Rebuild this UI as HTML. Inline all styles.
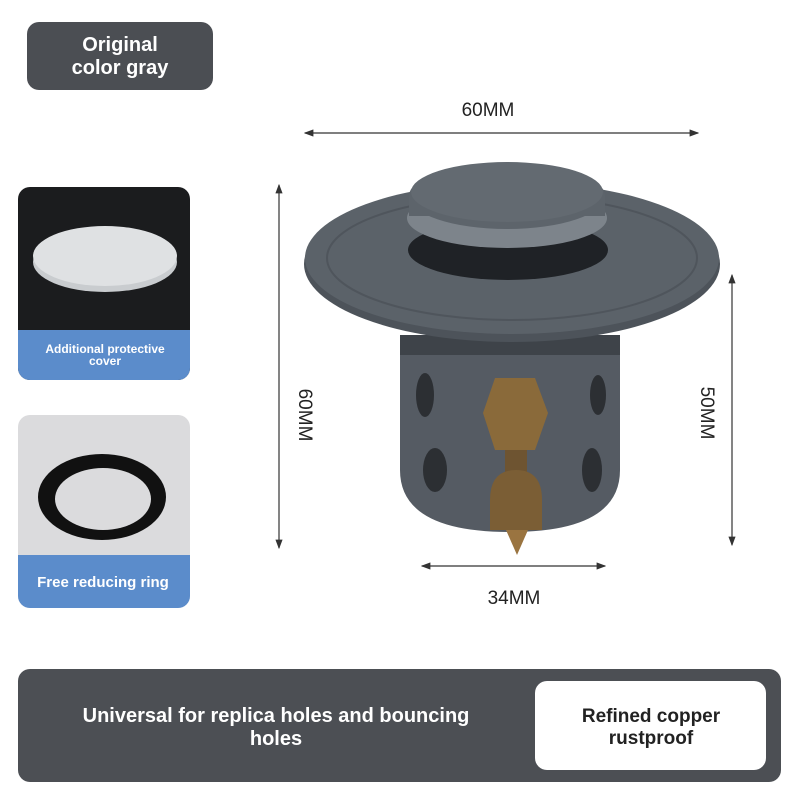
<!DOCTYPE html>
<html><head><meta charset="utf-8"><style>
body{margin:0;width:800px;height:800px;background:#fff;overflow:hidden;font-family:"Liberation Sans",sans-serif}
</style></head><body>
<svg width="800" height="800" viewBox="0 0 800 800" xmlns="http://www.w3.org/2000/svg" font-family="Liberation Sans, sans-serif">
<defs>
<marker id="a" markerWidth="8" markerHeight="6" refX="7" refY="3" orient="auto"><path d="M0,0 L8,3 L0,6 Z" fill="#333"/></marker>
<marker id="b" markerWidth="8" markerHeight="6" refX="1" refY="3" orient="auto"><path d="M8,0 L0,3 L8,6 Z" fill="#333"/></marker>
<clipPath id="c1"><rect x="18" y="187" width="172" height="193" rx="12"/></clipPath>
<clipPath id="c2"><rect x="18" y="415" width="172" height="193" rx="12"/></clipPath>
</defs>
<rect x="27" y="22" width="186" height="68" rx="12" fill="#4b4e53"/>
<text x="120" y="51" fill="#fff" font-size="20" font-weight="bold" text-anchor="middle">Original</text>
<text x="120" y="74" fill="#fff" font-size="20" font-weight="bold" text-anchor="middle">color gray</text>

<g clip-path="url(#c1)"><rect x="18" y="187" width="172" height="193" fill="#1b1c1e"/><rect x="18" y="330" width="172" height="50" fill="#5b8ccb"/>
<ellipse cx="105" cy="262" rx="72" ry="30" fill="#c9cccf"/><ellipse cx="105" cy="256" rx="72" ry="30" fill="#dfe1e3"/></g>
<text x="105" y="353" fill="#fff" font-size="12" font-weight="bold" text-anchor="middle">Additional protective</text>
<text x="105" y="365" fill="#fff" font-size="12" font-weight="bold" text-anchor="middle">cover</text>
<g clip-path="url(#c2)"><rect x="18" y="415" width="172" height="193" fill="#dbdbdd"/><rect x="18" y="555" width="172" height="53" fill="#5b8ccb"/>
<ellipse cx="102" cy="497" rx="64" ry="43" fill="#111"/><ellipse cx="103" cy="499" rx="48" ry="31" fill="#dbdbdd"/></g>
<text x="103" y="587" fill="#fff" font-size="15" font-weight="bold" text-anchor="middle">Free reducing ring</text>

<line x1="305" y1="133" x2="698" y2="133" stroke="#333" stroke-width="1.2" marker-start="url(#b)" marker-end="url(#a)"/>
<text x="488" y="116" font-size="19" fill="#222" text-anchor="middle">60MM</text>
<line x1="279" y1="185" x2="279" y2="548" stroke="#333" stroke-width="1.2" marker-start="url(#b)" marker-end="url(#a)"/>
<text x="0" y="0" font-size="19" fill="#222" text-anchor="middle" transform="translate(299,415) rotate(90)">60MM</text>
<line x1="732" y1="275" x2="732" y2="545" stroke="#333" stroke-width="1.2" marker-start="url(#b)" marker-end="url(#a)"/>
<text x="0" y="0" font-size="19" fill="#222" text-anchor="middle" transform="translate(701,413) rotate(90)">50MM</text>
<line x1="422" y1="566" x2="605" y2="566" stroke="#333" stroke-width="1.2" marker-start="url(#b)" marker-end="url(#a)"/>
<text x="514" y="604" font-size="19" fill="#222" text-anchor="middle">34MM</text>

<!-- product -->
<path d="M400,335 L620,335 L620,470 Q620,532 510,532 Q400,532 400,470 Z" fill="#555b63"/>
<rect x="400" y="335" width="220" height="20" fill="#3e4349"/>
<ellipse cx="425" cy="395" rx="9" ry="22" fill="#2c2f33"/><ellipse cx="598" cy="395" rx="8" ry="20" fill="#2c2f33"/>
<polygon points="495,378 535,378 548,413 535,450 495,450 483,413" fill="#8a6a3a"/>
<rect x="505" y="450" width="22" height="22" fill="#6e5431"/>
<ellipse cx="435" cy="470" rx="12" ry="22" fill="#2c2f33"/><ellipse cx="592" cy="470" rx="10" ry="22" fill="#2c2f33"/>
<path d="M490,500 Q490,470 516,470 Q542,470 542,500 L542,530 L490,530 Z" fill="#7b5e35"/>
<path d="M506,530 L528,530 L517,555 Z" fill="#9a7440"/>
<ellipse cx="512" cy="264" rx="208" ry="78" fill="#4d535a"/>
<ellipse cx="512" cy="258" rx="207" ry="76" fill="#5b6269"/>
<ellipse cx="512" cy="258" rx="185" ry="62" fill="none" stroke="#4f555c" stroke-width="2"/>
<ellipse cx="508" cy="250" rx="100" ry="30" fill="#1f2226"/>
<ellipse cx="507" cy="218" rx="100" ry="30" fill="#7d848b"/>
<ellipse cx="507" cy="196" rx="98" ry="33" fill="#5d646b"/>
<rect x="409" y="196" width="196" height="20" fill="#5d646b"/>
<ellipse cx="507" cy="192" rx="96" ry="30" fill="#636a71"/>

<rect x="18" y="669" width="763" height="113" rx="12" fill="#4c4f54"/>
<text x="276" y="722" fill="#fff" font-size="20" font-weight="bold" text-anchor="middle">Universal for replica holes and bouncing</text>
<text x="276" y="745" fill="#fff" font-size="20" font-weight="bold" text-anchor="middle">holes</text>
<rect x="535" y="681" width="231" height="89" rx="12" fill="#fff"/>
<text x="651" y="722" fill="#222" font-size="19" font-weight="bold" text-anchor="middle">Refined copper</text>
<text x="651" y="744" fill="#222" font-size="19" font-weight="bold" text-anchor="middle">rustproof</text>
</svg>
</body></html>
